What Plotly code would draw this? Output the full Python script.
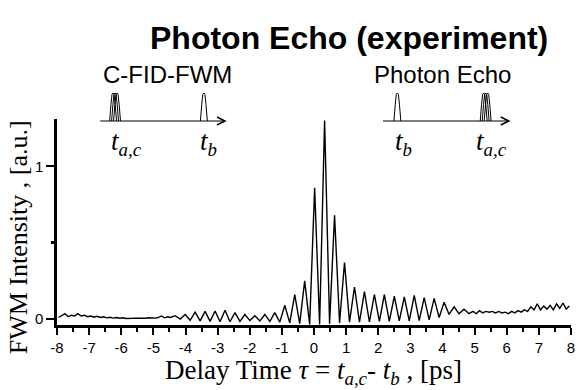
import plotly.graph_objects as go

# ---------------- data ----------------
# slow noisy background before the beat train
noise_left_x = [-7.95, -7.85, -7.75, -7.65, -7.55, -7.45, -7.35, -7.25, -7.15, -7.05,
                -6.95, -6.85, -6.75, -6.65, -6.55, -6.45, -6.35, -6.25, -6.15, -6.05,
                -5.95, -5.85, -5.75, -5.65, -5.55, -5.45, -5.35, -5.25, -5.15, -5.05,
                -4.95, -4.85, -4.75, -4.65, -4.55]
noise_left_y = [0.01, 0.02, 0.035, 0.015, 0.025, 0.02, 0.035, 0.02, 0.025, 0.015,
                0.02, 0.012, 0.018, 0.01, 0.015, 0.008, 0.012, 0.006, 0.01, 0.005,
                0.008, 0.004, 0.007, 0.005, 0.006, 0.004, 0.007, 0.005, 0.008, 0.006,
                0.006, 0.01, 0.02, 0.008, 0.015]

# beat train: alternating troughs and peaks
beat_x = [-4.47, -4.32, -4.165, -4.01, -3.855, -3.70, -3.545, -3.39, -3.235, -3.08,
          -2.925, -2.77, -2.615, -2.46, -2.305, -2.15, -1.995, -1.84, -1.685, -1.53,
          -1.375, -1.22, -1.065, -0.91, -0.755, -0.60, -0.445, -0.29, -0.135, 0.02,
          0.175, 0.33, 0.485, 0.64, 0.795, 0.95, 1.105, 1.26, 1.415, 1.57,
          1.725, 1.88, 2.035, 2.19, 2.345, 2.50, 2.655, 2.81, 2.965, 3.12,
          3.275, 3.43, 3.585, 3.74, 3.895, 4.05, 4.205, 4.36, 4.515, 4.67, 4.825]
beat_y = [0.01, 0.022, 0.0, 0.03, -0.008, 0.045, -0.012, 0.05, -0.015, 0.053,
          -0.018, 0.058, -0.018, 0.042, -0.015, 0.03, -0.01, 0.022, -0.012, 0.03,
          -0.015, 0.042, -0.02, 0.09, -0.025, 0.16, -0.03, 0.25, -0.035, 0.86,
          -0.035, 1.30, -0.03, 0.68, -0.025, 0.37, -0.02, 0.21, -0.02, 0.18,
          -0.018, 0.16, -0.015, 0.16, -0.015, 0.15, -0.012, 0.145, -0.012, 0.155,
          -0.01, 0.14, -0.005, 0.135, 0.01, 0.11, 0.03, 0.08, 0.035, 0.065, 0.035]

noise_right_x = [4.95, 5.05, 5.15, 5.25, 5.35, 5.45, 5.55, 5.65, 5.75, 5.85,
                 5.95, 6.05, 6.15, 6.25, 6.35, 6.45, 6.55, 6.65, 6.75, 6.85,
                 6.95, 7.05, 7.15, 7.25, 7.35, 7.45, 7.55, 7.65, 7.75, 7.85, 7.95]
noise_right_y = [0.05, 0.035, 0.055, 0.04, 0.05, 0.045, 0.05, 0.04, 0.05, 0.04,
                 0.045, 0.035, 0.05, 0.04, 0.055, 0.045, 0.06, 0.05, 0.08, 0.06,
                 0.1, 0.06, 0.085, 0.065, 0.09, 0.06, 0.1, 0.07, 0.105, 0.065, 0.085]

x_ticks = [-8, -7, -6, -5, -4, -3, -2, -1, 0, 1, 2, 3, 4, 5, 6, 7, 8]
y_ticks = [0, 1]
y_minor_ticks = [0.5]

trace_x = noise_left_x + beat_x + noise_right_x
trace_y = noise_left_y + beat_y + noise_right_y

# ---------------- figure ----------------
W, H = 581, 390
L, R, T, B = 57, 575, 119, 325


def px(x):
    return (x - L) / (R - L)


def py(y):
    return (B - y) / (B - T)


fig = go.Figure()
fig.add_trace(go.Scatter(x=trace_x, y=trace_y, mode="lines",
                         line=dict(color="black", width=1.4),
                         hoverinfo="skip"))

SANS = "Liberation Sans, Arial, sans-serif"
SERIF = "Liberation Serif, Times New Roman, serif"

fig.update_layout(
    width=W, height=H,
    margin=dict(l=L, r=W - R, t=T, b=H - B),
    plot_bgcolor="white", paper_bgcolor="white",
    showlegend=False,
    xaxis=dict(range=[-8, 8], tickvals=x_ticks, ticktext=[str(v) for v in x_ticks],
               ticks="outside", ticklen=7, tickwidth=2, tickcolor="black",
               showline=True, linewidth=2.5, linecolor="black",
               showgrid=False, zeroline=False,
               tickfont=dict(family=SANS, size=15, color="black"),
               minor=dict(tick0=-8, dtick=0.5, ticks="outside", ticklen=4,
                          tickwidth=1.5, tickcolor="black", showgrid=False)),
    yaxis=dict(range=[-0.039, 1.31], tickvals=y_ticks, ticktext=[str(v) for v in y_ticks],
               ticks="outside", ticklen=8, tickwidth=2, tickcolor="black",
               showline=True, linewidth=2.5, linecolor="black",
               showgrid=False, zeroline=False,
               tickfont=dict(family=SANS, size=15, color="black"),
               minor=dict(tickvals=y_minor_ticks, ticks="outside", ticklen=3,
                          tickwidth=3, tickcolor="black", showgrid=False)),
)

ann = []
# main title
ann.append(dict(text="<b>Photon Echo (experiment)</b>", x=px(351), y=py(38),
                xref="paper", yref="paper", showarrow=False,
                font=dict(family=SANS, size=32, color="black"),
                xanchor="center", yanchor="middle"))
# inset titles
ann.append(dict(text="C-FID-FWM", x=px(168), y=py(74), xref="paper", yref="paper",
                showarrow=False, font=dict(family=SANS, size=24, color="black"),
                xanchor="center", yanchor="middle"))
ann.append(dict(text="Photon Echo", x=px(446), y=py(74), xref="paper", yref="paper",
                showarrow=False, font=dict(family=SANS, size=24, color="black"),
                xanchor="center", yanchor="middle"))
# axis titles
ann.append(dict(text="Delay Time <i>τ</i> = <i>t</i><sub><i>a,c</i></sub>- <i>t</i><sub><i>b</i></sub> , [ps]",
                x=px(315), y=py(372), xref="paper", yref="paper", showarrow=False,
                font=dict(family=SERIF, size=27, color="black"),
                xanchor="center", yanchor="middle"))
ann.append(dict(text="FWM Intensity , [a.u.]", x=px(18), y=py(237), xref="paper",
                yref="paper", showarrow=False, textangle=-90,
                font=dict(family=SERIF, size=26, color="black"),
                xanchor="center", yanchor="middle"))
# inset time labels
tac = "<i>t</i><sub><i>a,c</i></sub>"
tb = "<i>t</i><sub><i>b</i></sub>"
for txt, cx in [(tac, 127), (tb, 210), (tb, 406), (tac, 495)]:
    ann.append(dict(text=txt, x=px(cx), y=py(143), xref="paper", yref="paper",
                    showarrow=False, font=dict(family=SERIF, size=27, color="black"),
                    xanchor="center", yanchor="middle"))
# inset arrows
for x0, x1 in [(100, 228), (385, 514)]:
    ann.append(dict(text="", x=px(x1), y=py(121), xref="paper", yref="paper",
                    ax=-(x1 - x0), ay=0, showarrow=True, arrowhead=5,
                    arrowsize=1.3, arrowwidth=1.2, arrowcolor="black"))
fig.update_layout(annotations=ann)


# inset pulses (decorative glyphs)
def pulse_path(cx, base=121, top=93, hw=3.5):
    pts = [(cx - hw, base), (cx - hw * 0.6, base - (base - top) * 0.6),
           (cx - hw * 0.3, base - (base - top) * 0.95), (cx, top),
           (cx + hw * 0.3, base - (base - top) * 0.95),
           (cx + hw * 0.6, base - (base - top) * 0.6), (cx + hw, base)]
    return "M " + " L ".join(f"{px(a):.5f},{py(b):.5f}" for a, b in pts)


shapes = []
for cx in [113.5, 115.5, 117.5, 205, 400, 487, 489, 491]:
    shapes.append(dict(type="path", path=pulse_path(cx), xref="paper", yref="paper",
                       line=dict(color="black", width=1), fillcolor="rgba(0,0,0,0)"))
fig.update_layout(shapes=shapes)

fig.write_html("out.html")
